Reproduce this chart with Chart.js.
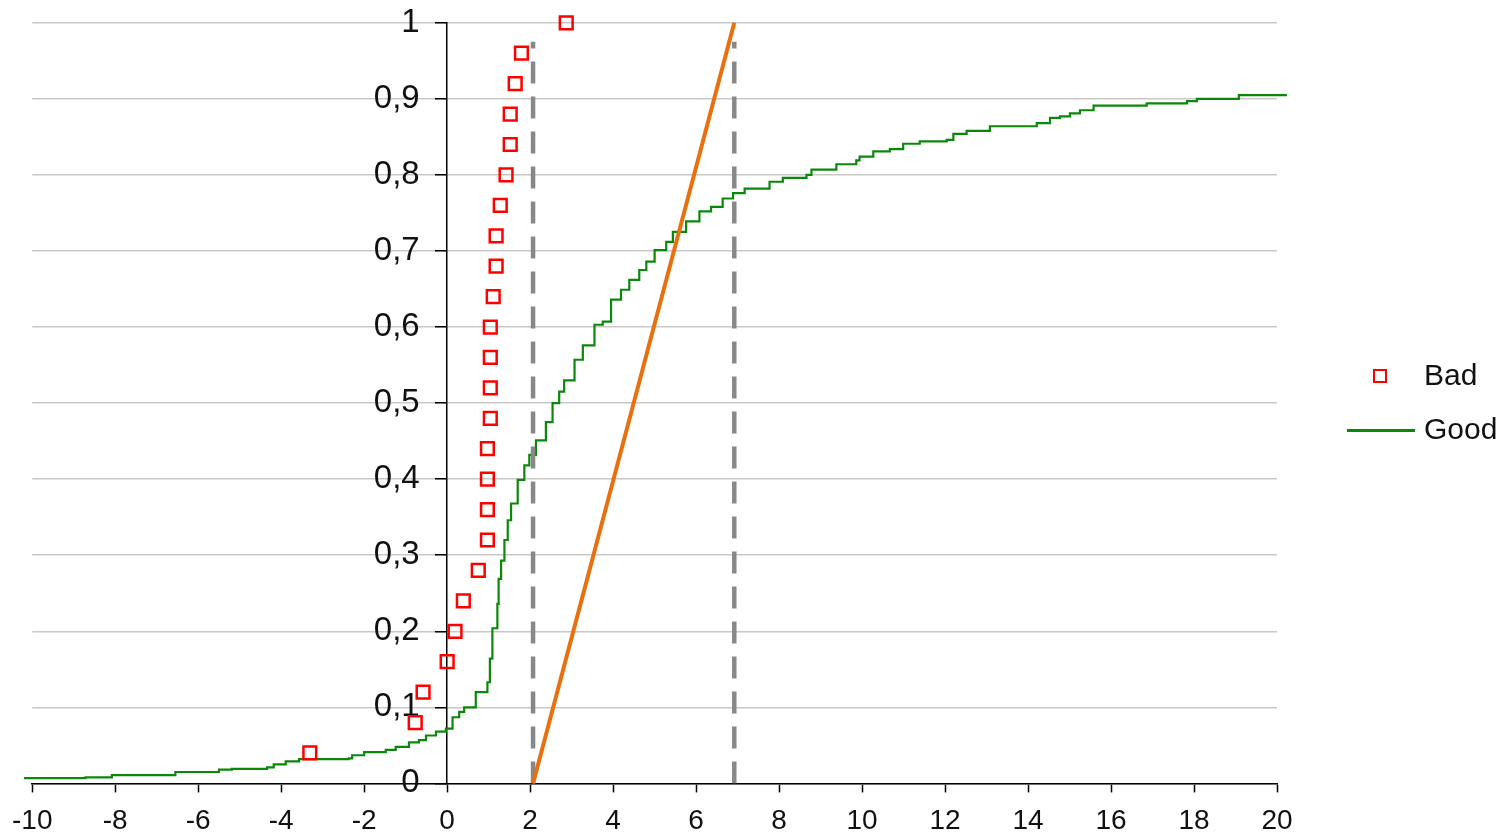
<!DOCTYPE html>
<html>
<head>
<meta charset="utf-8">
<script src="https://cdn.jsdelivr.net/npm/chart.js@4/dist/chart.umd.min.js"></script>
<style>
  html, body { margin: 0; padding: 0; background: #fff; }
  #wrap { position: relative; width: 1507px; height: 836px; font-family: 'Liberation Sans', Arial, sans-serif; }
  #cdf-chart { position: absolute; left: 0; top: 0; }
  .legend-item { position: absolute; left: 1345px; width: 160px; height: 34px; font-size: 30px; color: #111; }
  .legend-item span.txt { position: absolute; left: 79px; top: 0; line-height: 34px; }
  .mk-bad { position: absolute; left: 28px; top: 11px; width: 10px; height: 10px; border: 2.5px solid #ff0000; }
  .mk-good { position: absolute; left: 2px; top: 17px; width: 68px; height: 3px; background: #0a880a; }
</style>
</head>
<body>
<div id="wrap">
  <canvas id="cdf-chart" width="1507" height="836"></canvas>
  <div class="legend-item" style="top:358px"><div class="mk-bad"></div><span class="txt">Bad</span></div>
  <div class="legend-item" style="top:412px"><div class="mk-good"></div><span class="txt">Good</span></div>
</div>
<script>
// --- dados ---
const badX = [-3.31, -0.77, -0.58, 0.0, 0.19, 0.39, 0.75, 0.97, 0.97, 0.97, 0.97, 1.04, 1.04, 1.04, 1.04, 1.11, 1.18, 1.18, 1.28, 1.42, 1.52, 1.52, 1.64, 1.79, 2.87];
const badY = [0.04, 0.08, 0.12, 0.16, 0.20, 0.24, 0.28, 0.32, 0.36, 0.40, 0.44, 0.48, 0.52, 0.56, 0.60, 0.64, 0.68, 0.72, 0.76, 0.80, 0.84, 0.88, 0.92, 0.96, 1.00];

const goodX = [-10.2, -8.72, -8.08, -6.55, -5.50, -5.19, -4.34, -4.18, -3.89, -3.57, -2.37, -2.29, -2.00, -1.48, -1.24, -0.92, -0.68, -0.51, -0.27, -0.03,
  0.13, 0.29, 0.41, 0.69, 0.97, 1.03, 1.09, 1.21, 1.24, 1.30, 1.38, 1.46, 1.54, 1.70, 1.86, 1.98, 2.14, 2.38, 2.54, 2.70, 2.82,
  3.07, 3.27, 3.55, 3.75, 3.95, 4.19, 4.39, 4.63, 4.80, 5.00, 5.28, 5.44, 5.76, 6.08, 6.36, 6.64, 6.89, 7.17, 7.77, 8.09, 8.66, 8.78,
  9.38, 9.86, 9.94, 10.27, 10.67, 10.99, 11.39, 12.04, 12.20, 12.52, 13.08, 14.21, 14.53, 14.77, 15.01, 15.25, 15.58, 16.86, 17.83, 18.07, 19.08, 20.24];
const goodY = [0.007, 0.008, 0.011, 0.015, 0.018, 0.019, 0.021, 0.025, 0.029, 0.032, 0.033, 0.037, 0.041, 0.044, 0.048, 0.054, 0.057, 0.063, 0.068, 0.072,
  0.087, 0.094, 0.100, 0.120, 0.133, 0.164, 0.204, 0.236, 0.269, 0.293, 0.320, 0.346, 0.368, 0.399, 0.418, 0.432, 0.451, 0.475, 0.500, 0.515, 0.530,
  0.557, 0.576, 0.603, 0.607, 0.636, 0.649, 0.662, 0.675, 0.686, 0.701, 0.712, 0.725, 0.739, 0.752, 0.758, 0.769, 0.776, 0.782, 0.791, 0.796, 0.800, 0.807,
  0.814, 0.819, 0.824, 0.831, 0.834, 0.841, 0.844, 0.846, 0.854, 0.858, 0.864, 0.868, 0.875, 0.877, 0.881, 0.885, 0.891, 0.894, 0.897, 0.900, 0.905, 0.905];

// reta laranja e linhas verticais tracejadas
const lineX = [2.07, 6.92];
const lineY = [0, 1];
const cutX = [2.07, 6.92];
const cutTop = 0.975;

const xTicks = { min: -10, max: 20, step: 2 };
const yTicks = { min: 0, max: 1, step: 0.1 };

const zip = (xs, ys) => xs.map((x, i) => ({ x: x, y: ys[i] }));
const FONT = "'Liberation Sans', Arial, sans-serif";

const ctx = document.getElementById('cdf-chart').getContext('2d');
new Chart(ctx, {
    type: 'scatter',
    data: {
        datasets: [
            {
                label: 'Bad',
                data: zip(badX, badY),
                pointStyle: 'rect',
                pointRadius: 9,
                borderColor: '#ff0000',
                backgroundColor: 'rgba(0,0,0,0)',
                borderWidth: 2.5,
                clip: false
            },
            {
                label: 'reta',
                type: 'line',
                data: zip(lineX, lineY),
                borderColor: '#e8700f',
                borderWidth: 4,
                pointRadius: 0,
                clip: false
            },
            {
                label: 'corte1',
                type: 'line',
                data: [{ x: cutX[0], y: 0 }, { x: cutX[0], y: cutTop }],
                borderColor: '#888888',
                borderWidth: 4.5,
                borderDash: [22, 13],
                pointRadius: 0
            },
            {
                label: 'corte2',
                type: 'line',
                data: [{ x: cutX[1], y: 0 }, { x: cutX[1], y: cutTop }],
                borderColor: '#888888',
                borderWidth: 4.5,
                borderDash: [22, 13],
                pointRadius: 0
            },
            {
                label: 'Good',
                type: 'line',
                data: zip(goodX, goodY),
                stepped: 'before',
                borderColor: '#0a880a',
                borderWidth: 2.2,
                pointRadius: 0,
                clip: { left: 12, right: 12, top: 0, bottom: 0 }
            }
        ]
    },
    options: {
        responsive: false,
        animation: false,
        layout: { padding: { left: 30, right: 230, top: 1, bottom: -14 } },
        plugins: {
            legend: { display: false },
            tooltip: { enabled: false }
        },
        scales: {
            x: {
                type: 'linear',
                position: 'bottom',
                min: xTicks.min,
                max: xTicks.max,
                ticks: { stepSize: xTicks.step, color: '#111', font: { family: FONT, size: 28 }, padding: 12, maxRotation: 0 },
                grid: { drawOnChartArea: false, drawTicks: true, tickLength: 9, tickColor: '#000', tickWidth: 1.5 },
                border: { color: '#000', width: 1.5 }
            },
            y: {
                type: 'linear',
                position: { x: 0 },
                min: yTicks.min,
                max: yTicks.max,
                ticks: {
                    stepSize: yTicks.step,
                    color: '#111',
                    font: { family: FONT, size: 33 },
                    // o eixo fica em x=0, então o afastamento do rótulo vai com espaços
                    callback: v => (Math.round(v * 10) / 10).toString().replace('.', ',') + '   '
                },
                grid: { color: '#c8c8c8', lineWidth: 1.5, tickLength: 11, tickColor: '#000', tickWidth: 1.5 },
                border: { color: '#000', width: 1.5 }
            }
        }
    }
});
</script>
</body>
</html>
